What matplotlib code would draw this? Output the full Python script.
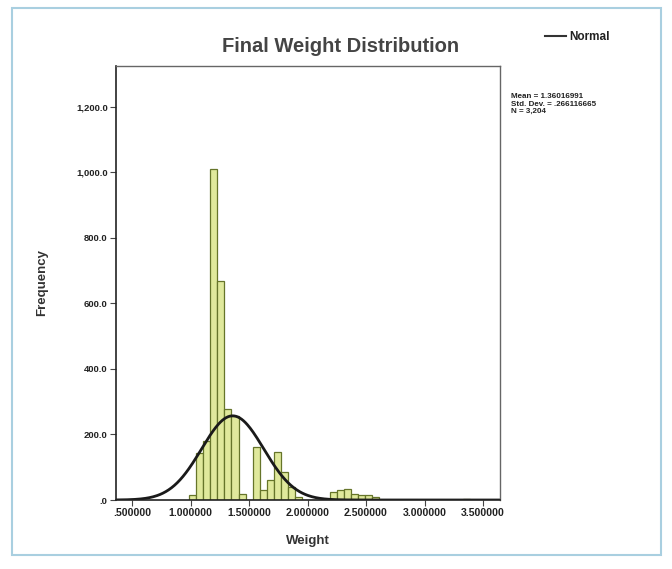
import numpy as np
import matplotlib
matplotlib.use("Agg")
import matplotlib.pyplot as plt
from matplotlib.patches import Rectangle

# histogram bins (left edge, width) and counts
bin_start = 0.99
bin_width = 0.06
counts = [15, 143, 180, 1010, 668, 278, 255, 18, 0, 162, 30, 61, 147, 86, 40, 10,
          0, 0, 0, 0, 25, 30, 35, 18, 15, 15, 10, 0, 0, 0, 0, 0, 0, 0, 0, 0, 0, 0, 0, 3]

mean = 1.36016991
sd = 0.266116665
n = 3204
curve_width = 0.0535   # effective width used for the normal curve

xticks = [0.5, 1.0, 1.5, 2.0, 2.5, 3.0, 3.5]
xtick_labels = [".500000", "1.000000", "1.500000", "2.000000", "2.500000", "3.000000", "3.500000"]
yticks = [0, 200, 400, 600, 800, 1000, 1200]
ytick_labels = [".0", "200.0", "400.0", "600.0", "800.0", "1,000.0", "1,200.0"]

plt.rcParams['font.family'] = ['Liberation Sans', 'DejaVu Sans']

fig = plt.figure(figsize=(6.72, 5.69), dpi=100)
ax = fig.add_axes([116/672, 1-500/569, 384/672, 434/569])

edges = bin_start + bin_width*np.arange(len(counts))
ax.bar(edges, counts, width=bin_width, align='edge',
       facecolor='#e0e99c', edgecolor='#66752a', linewidth=0.9)

xs = np.linspace(0.36, 3.64, 400)
ys = n*curve_width/(sd*np.sqrt(2*np.pi))*np.exp(-0.5*((xs-mean)/sd)**2)
ax.plot(xs, ys, color='#1a1a1a', lw=2)

ax.set_xlim(0.363, 3.645)
ax.set_ylim(0, 1325)
ax.set_xticks(xticks)
ax.set_xticklabels(xtick_labels, fontsize=7.6, fontweight='bold', color='#222222')
ax.set_yticks(yticks)
ax.set_yticklabels(ytick_labels, fontsize=6.8, fontweight='bold', color='#222222')
ax.tick_params(direction='out', length=4, width=0.8, color='#444444', pad=2)
for s in ['left', 'bottom']:
    ax.spines[s].set_color('#222222')
    ax.spines[s].set_linewidth(1.2)
for s in ['top', 'right']:
    ax.spines[s].set_color('#666666')
    ax.spines[s].set_linewidth(1.0)

ax.set_xlabel("Weight", fontsize=9.5, fontweight='bold', color='#333333', labelpad=12)
ax.set_ylabel("Frequency", fontsize=9.5, fontweight='bold', color='#333333', labelpad=20)

fig.text(341/672, 1-47/569, "Final Weight Distribution", ha='center', va='center',
         fontsize=14.5, fontweight='bold', color='#444444')

# legend line
fig.add_artist(plt.Line2D([545/672, 566/672], [1-36/569, 1-36/569], color='#333333', lw=1.5))
fig.text(569/672, 1-37/569, "Normal", ha='left', va='center', fontsize=8.5,
         fontweight='bold', color='#222222')

fig.text(511/672, 1-104/569, "Mean = 1.36016991\nStd. Dev. = .266116665\nN = 3,204",
         ha='left', va='center', fontsize=5.8, fontweight='bold', color='#222222',
         linespacing=1.0)

# outer frame of the chart
fig.add_artist(Rectangle((12/672, 1-555/569), 649/672, 547/569, transform=fig.transFigure,
                         fill=False, edgecolor='#a9cfe0', lw=1.5))

fig.savefig("out.png", dpi=100)
